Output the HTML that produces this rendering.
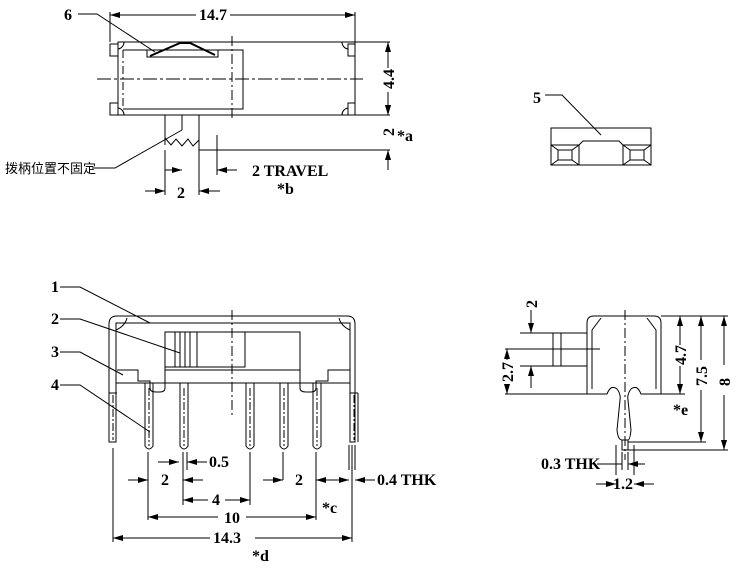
<!DOCTYPE html>
<html><head><meta charset="utf-8"><style>
body{margin:0;background:#fff}
svg{display:block}
text{font-family:"Liberation Serif","Noto Serif CJK SC",serif;font-size:16px;font-weight:bold;fill:#000}
.c{font-family:"Liberation Sans","Noto Sans CJK SC",sans-serif;font-size:13px;font-weight:normal}
</style></head><body>
<svg width="738" height="569" viewBox="0 0 738 569" xmlns="http://www.w3.org/2000/svg">
<defs>
<marker id="a" markerWidth="10" markerHeight="6" refX="10" refY="3" orient="auto" markerUnits="userSpaceOnUse"><path d="M0,0L10,3L0,6z" fill="#000"/></marker>
</defs>
<g stroke="#000" stroke-width="1" fill="none">
<!-- TOP VIEW -->
<rect x="118" y="42" width="237" height="73"/>
<rect x="110" y="44" width="8" height="12"/><rect x="110" y="103" width="8" height="12"/>
<rect x="348" y="44" width="7" height="12"/><rect x="348" y="103" width="7" height="12"/>
<path d="M118,49 A7,7 0 0 0 124,42M118,108 A7,7 0 0 1 124,115M348,49 A7,7 0 0 1 342,42M348,108 A7,7 0 0 0 342,115"/>
<path d="M123,50 H243 V109 H123" /><path d="M123,50 V109" stroke-dasharray="8,3,2,3"/>
<path d="M147,50 V57 H218 V50 M152,57 H213" />
<path d="M150,56 L180,43 H190 L215,55" stroke-width="2"/>
<path d="M232,36 V120" stroke-dasharray="10,3,2,3"/>
<path d="M97,79 H363" stroke-dasharray="14,3,3,3"/>
<path d="M110,12 V42 M355,12 V42"/>
<line x1="196" y1="15" x2="110" y2="15" marker-end="url(#a)"/><line x1="230" y1="15" x2="355" y2="15" marker-end="url(#a)"/>
<path d="M78,14 H97 L155,52"/>
<path d="M165,115 V145 M199,115 V150 M182,115 V130"/>
<path d="M165,138 L171,145 L176,139 L182,146 L188,139 L193,146 L199,140"/>
<path d="M199,150 H390 M355,42 H390 M355,115 H390 M217,135 V175 M165,150 V195 M199,150 V195"/>
<line x1="388" y1="68" x2="388" y2="42" marker-end="url(#a)"/><line x1="388" y1="92" x2="388" y2="115" marker-end="url(#a)"/>
<line x1="388" y1="95" x2="388" y2="115" marker-end="url(#a)"/><line x1="388" y1="170" x2="388" y2="150" marker-end="url(#a)"/>
<line x1="237" y1="170" x2="217" y2="170" marker-end="url(#a)"/>
<line x1="165" y1="170" x2="182" y2="170" marker-end="url(#a)"/>
<line x1="145" y1="191" x2="165" y2="191" marker-end="url(#a)"/><line x1="220" y1="191" x2="199" y2="191" marker-end="url(#a)"/>
<path d="M92,168 H115 L182,130"/>
<!-- PART 5 -->
<path d="M545,95 H562 L601,135"/>
<rect x="551" y="128" width="100" height="37"/>
<path d="M551,145 H579 L583,141 H619 L623,145 H651 M579,145 V165 M623,145 V165"/>
<path d="M551,145 L558,150 H572 L579,145 M558,150 V160 H572 V150 M551,165 L558,160 M579,165 L572,160"/>
<path d="M623,145 L630,150 H644 L651,145 M630,150 V160 H644 V150 M623,165 L630,160 M651,165 L644,160"/>
<!-- FRONT VIEW -->
<path d="M109,442 V324 Q109,316 117,316 H347 Q355,316 355,324 V442 H350 V323 H116 V442 Z"/>
<path d="M116,330 Q125,326 127,318 M350,330 Q341,326 339,318"/>
<path d="M116,383 H350 M165,370 H300 M117,370 H138 V381 H150 V388 Q150,392 156,392 H160 Q165,392 165,388 V370 M300,370 V388 Q300,392 306,392 H311 Q316,392 316,388 V381 H328 V370 H350"/>
<rect x="165" y="332" width="135" height="38"/>
<path d="M165,367 H245 V332 M175,332 V367 M180,332 V367 M185,332 V367 M190,332 V367 M197,332 V367"/>
<path d="M232,310 V417" stroke-dasharray="10,3,2,3"/>
<path d="M109,393 H117 M350,393 H358 M358,442 V393"/>
<g id="pin"><path d="M145,383 V446 Q149,452 153,446 V383"/><path d="M149,388 V446" stroke-dasharray="8,2,2,2"/></g>
<use href="#pin" x="35"/><use href="#pin" x="101"/><use href="#pin" x="135"/><use href="#pin" x="168"/>
<path d="M113,395 V440 M354,395 V440" stroke-dasharray="8,2,2,2"/>
<path d="M60,287 H80 L150,323 M60,319 H80 L180,353 M60,352 H80 L123,375 M60,385 H80 L150,432"/>
<path d="M113,448 V542 M352,445 V542 M355,445 V470 M349,445 V470 M148,452 V520 M183,452 V505 M187,452 V470 M250,452 V505 M283,452 V480 M316,452 V520"/>
<line x1="158" y1="462" x2="179" y2="462" marker-end="url(#a)"/><line x1="207" y1="462" x2="187" y2="462" marker-end="url(#a)"/>
<line x1="128" y1="480" x2="148" y2="480" marker-end="url(#a)"/><line x1="203" y1="480" x2="183" y2="480" marker-end="url(#a)"/>
<line x1="263" y1="480" x2="283" y2="480" marker-end="url(#a)"/><line x1="336" y1="480" x2="316" y2="480" marker-end="url(#a)"/>
<line x1="335" y1="480" x2="349" y2="480" marker-end="url(#a)"/><line x1="375" y1="480" x2="355" y2="480" marker-end="url(#a)"/>
<line x1="208" y1="500" x2="183" y2="500" marker-end="url(#a)"/><line x1="225" y1="500" x2="250" y2="500" marker-end="url(#a)"/>
<line x1="218" y1="517" x2="148" y2="517" marker-end="url(#a)"/><line x1="246" y1="517" x2="316" y2="517" marker-end="url(#a)"/>
<line x1="210" y1="538" x2="113" y2="538" marker-end="url(#a)"/><line x1="255" y1="538" x2="352" y2="538" marker-end="url(#a)"/>
<!-- SIDE VIEW -->
<path d="M587,394 V323 Q587,316 594,316 H654 Q661,316 661,323 V394 H641 Q637,384 631,389 Q627,394 628,400 L631,430 Q630,440 628,440 H622 Q618,440 617,430 L620,400 Q621,394 617,389 Q611,384 607,394 Z"/>
<path d="M592,389 V330 L601,318 M656,389 V330 L647,318"/>
<rect x="553" y="333" width="34" height="33"/><path d="M561,333 V366"/>
<rect x="622" y="440" width="6" height="10"/>
<path d="M625,310 V460" stroke-dasharray="10,3,2,3"/>
<path d="M661,316 H728 M661,394 H685 M628,442 H706 M628,450 H728 M505,349 H600 M505,394 H587 M520,333 H553 M520,366 H553 M616,445 V475 M634,445 V475 M622,452 V470 M628,452 V470"/>
<line x1="680" y1="345" x2="680" y2="316" marker-end="url(#a)"/><line x1="680" y1="366" x2="680" y2="394" marker-end="url(#a)"/>
<line x1="701" y1="360" x2="701" y2="316" marker-end="url(#a)"/><line x1="701" y1="390" x2="701" y2="442" marker-end="url(#a)"/>
<line x1="724" y1="365" x2="724" y2="316" marker-end="url(#a)"/><line x1="724" y1="395" x2="724" y2="450" marker-end="url(#a)"/>
<line x1="531" y1="310" x2="531" y2="333" marker-end="url(#a)"/><line x1="531" y1="388" x2="531" y2="366" marker-end="url(#a)"/>
<line x1="507" y1="360" x2="507" y2="349" marker-end="url(#a)"/><line x1="507" y1="385" x2="507" y2="394" marker-end="url(#a)"/>
<path d="M597,464 H622"/><line x1="645" y1="464" x2="628" y2="464" marker-end="url(#a)"/>
<line x1="596" y1="484" x2="616" y2="484" marker-end="url(#a)"/><line x1="654" y1="484" x2="634" y2="484" marker-end="url(#a)"/>
</g>
<!-- TEXT -->
<text x="64" y="20">6</text>
<text x="213" y="20" text-anchor="middle">14.7</text>
<text transform="translate(394,79) rotate(-90)" text-anchor="middle">4.4</text>
<text transform="translate(394,132) rotate(-90)" text-anchor="middle">2</text>
<text x="397" y="141">*a</text>
<text class="c" x="5" y="173">拨柄位置不固定</text>
<text x="252" y="176">2 TRAVEL</text>
<text x="277" y="194">*b</text>
<text x="177" y="198">2</text>
<text x="533" y="103">5</text>
<text x="51" y="292">1</text>
<text x="51" y="324">2</text>
<text x="51" y="357">3</text>
<text x="51" y="390">4</text>
<text x="209" y="467">0.5</text>
<text x="161" y="485">2</text>
<text x="295" y="485">2</text>
<text x="377" y="485">0.4 THK</text>
<text x="212" y="505">4</text>
<text x="224" y="523">10</text>
<text x="322" y="513">*c</text>
<text x="213" y="543">14.3</text>
<text x="252" y="561">*d</text>
<text transform="translate(537,304) rotate(-90)" text-anchor="middle">2</text>
<text transform="translate(513,372) rotate(-90)" text-anchor="middle">2.7</text>
<text transform="translate(686,355) rotate(-90)" text-anchor="middle">4.7</text>
<text transform="translate(707,376) rotate(-90)" text-anchor="middle">7.5</text>
<text transform="translate(730,382) rotate(-90)" text-anchor="middle">8</text>
<text x="673" y="415">*e</text>
<text x="541" y="469">0.3 THK</text>
<text x="613" y="489">1.2</text>
</svg>
</body></html>
